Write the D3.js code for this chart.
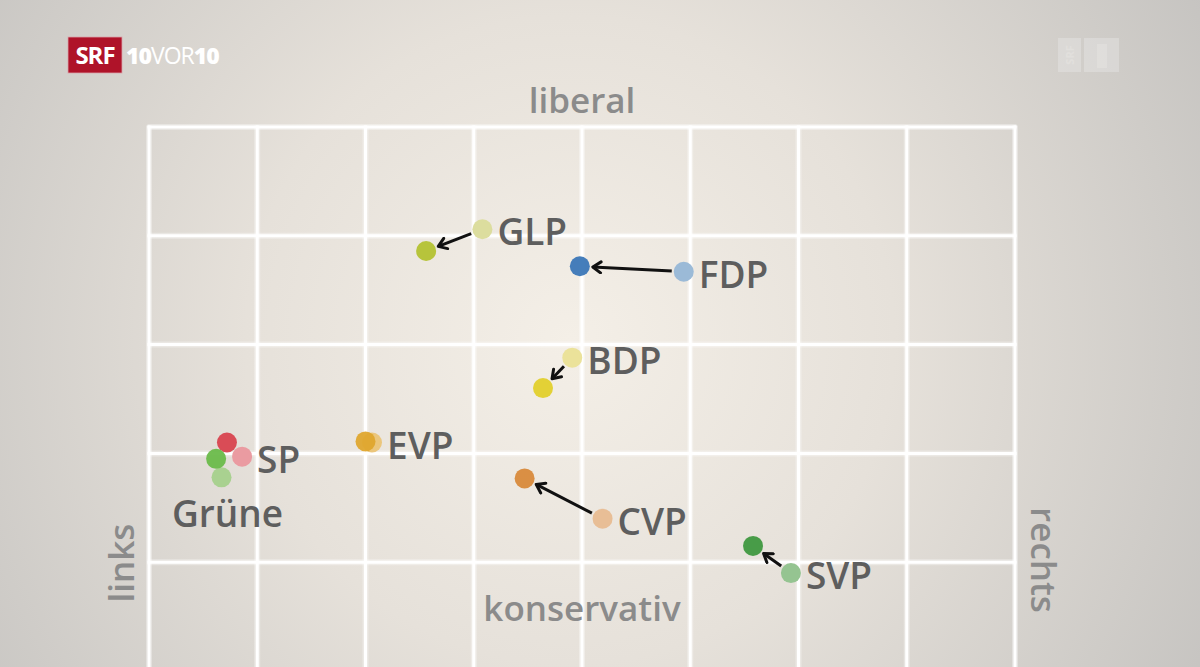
<!DOCTYPE html>
<html>
<head>
<meta charset="utf-8">
<script src="https://cdn.jsdelivr.net/npm/d3@7"></script>
<style>
  html, body { margin: 0; padding: 0; background: #cbc9c6; }
  svg { display: block; font-family: "Open Sans", "Noto Sans", sans-serif; }
</style>
</head>
<body>
<svg id="positions" width="1200" height="667"></svg>
<script>
// party positions, links(-) / rechts(+) and konservativ(-) / liberal(+)
var parties = ["GLP", "FDP", "BDP", "EVP", "SP", "Grüne", "CVP", "SVP"];
var oldX = [-0.92, 0.94, -0.09, -1.94, -3.14, -3.33, 0.19, 1.93];
var oldY = [ 3.06, 2.67,  1.88,  1.10,  0.97,  0.78, 0.40, -0.10];
var newX = [-1.44, -0.02, -0.36, -2.00, -3.28, -3.38, -0.53, 1.58];
var newY = [ 2.86, 2.72,  1.60,  1.11,  1.10,  0.95, 0.77, 0.15];
var labelSide = ["right", "right", "right", "right", "right", "below", "right", "right"];

var axisLabels = ["liberal", "konservativ", "links", "rechts"];

var newColors = ["#b4c232", "#3b77b7", "#e2d02c", "#dfa62e", "#d8434f", "#6abb4a", "#d88a3b", "#3f983f"];
var oldColors = ["#dcdd9e", "#9bbad7", "#ebe29a", "#ebc67c", "#ea9ba1", "#a9d190", "#e8be96", "#95c491"];

var svg = d3.select("svg#positions"),
	width = +svg.attr("width"),
	height = +svg.attr("height");

var xScale = d3.scaleLinear().domain([-4, 4]).range([149, 1015]);
var yScale = d3.scaleLinear().domain([4, -1]).range([127, 671]);

var defs = svg.append("defs");

var bg = defs.append("radialGradient")
	.attr("id", "bg")
	.attr("gradientUnits", "userSpaceOnUse")
	.attr("cx", 570).attr("cy", 340).attr("r", 720);
bg.append("stop").attr("offset", "0%").attr("stop-color", "#f4efe7");
bg.append("stop").attr("offset", "45%").attr("stop-color", "#e6e1da");
bg.append("stop").attr("offset", "100%").attr("stop-color", "#c6c4c1");

defs.append("marker")
	.attr("id", "arrow")
	.attr("viewBox", "0 0 14 14")
	.attr("markerUnits", "userSpaceOnUse")
	.attr("markerWidth", 14)
	.attr("markerHeight", 14)
	.attr("refX", 11)
	.attr("refY", 7)
	.attr("orient", "auto")
  .append("path")
	.attr("d", "M3,1.5 L11,7 L3,12.5")
	.attr("fill", "none")
	.attr("stroke", "#111")
	.attr("stroke-width", 3)
	.attr("stroke-linecap", "round")
	.attr("stroke-linejoin", "round");

svg.append("rect")
	.attr("width", width)
	.attr("height", height)
	.attr("fill", "url(#bg)");

// grid
var gx = xScale.ticks(8),
	gy = d3.range(4, -2, -1);

var grid = svg.append("g").attr("class", "grid");

grid.selectAll("line.glow-v")
	.data(gx)
	.enter().append("line")
	  .attr("x1", function(d) { return xScale(d); })
	  .attr("x2", function(d) { return xScale(d); })
	  .attr("y1", yScale(4) - 1.5)
	  .attr("y2", height + 5)
	  .attr("stroke", "#fff")
	  .attr("stroke-opacity", 0.35)
	  .attr("stroke-width", 6);

grid.selectAll("line.glow-h")
	.data(gy)
	.enter().append("line")
	  .attr("x1", xScale(-4) - 1.5)
	  .attr("x2", xScale(4) + 1.5)
	  .attr("y1", function(d) { return yScale(d); })
	  .attr("y2", function(d) { return yScale(d); })
	  .attr("stroke", "#fff")
	  .attr("stroke-opacity", 0.35)
	  .attr("stroke-width", 6);

grid.selectAll("line.v")
	.data(gx)
	.enter().append("line")
	  .attr("class", "v")
	  .attr("x1", function(d) { return xScale(d); })
	  .attr("x2", function(d) { return xScale(d); })
	  .attr("y1", yScale(4) - 1.5)
	  .attr("y2", height + 5)
	  .attr("stroke", "#fff")
	  .attr("stroke-width", 3);

grid.selectAll("line.h")
	.data(gy)
	.enter().append("line")
	  .attr("class", "h")
	  .attr("x1", xScale(-4) - 1.5)
	  .attr("x2", xScale(4) + 1.5)
	  .attr("y1", function(d) { return yScale(d); })
	  .attr("y2", function(d) { return yScale(d); })
	  .attr("stroke", "#fff")
	  .attr("stroke-width", 3);

// axis words
var axisCol = "#8b8b8b";
svg.append("text")
	.attr("x", xScale(0)).attr("y", 113)
	.attr("text-anchor", "middle")
	.attr("font-size", 35).attr("font-weight", 600)
	.attr("fill", axisCol)
	.text(axisLabels[0]);

svg.append("text")
	.attr("x", xScale(0)).attr("y", 621)
	.attr("text-anchor", "middle")
	.attr("font-size", 35).attr("font-weight", 600)
	.attr("fill", axisCol)
	.text(axisLabels[1]);

svg.append("text")
	.attr("transform", "translate(134,563) rotate(-90)")
	.attr("text-anchor", "middle")
	.attr("font-size", 35).attr("font-weight", 600)
	.attr("fill", axisCol)
	.text(axisLabels[2]);

svg.append("text")
	.attr("transform", "translate(1031,560) rotate(90)")
	.attr("text-anchor", "middle")
	.attr("font-size", 35).attr("font-weight", 600)
	.attr("fill", axisCol)
	.text(axisLabels[3]);

// build rows
var rows = parties.map(function(p, i) {
	return { id: p, ox: oldX[i], oy: oldY[i], nx: newX[i], ny: newY[i],
		side: labelSide[i], c0: oldColors[i], c1: newColors[i] };
});

var r = 10;

// arrows from old to new position
var arrows = rows.filter(function(d) {
	var dx = xScale(d.nx) - xScale(d.ox), dy = yScale(d.ny) - yScale(d.oy);
	return Math.sqrt(dx * dx + dy * dy) > 30;
});

svg.append("g").attr("class", "arrows")
	.selectAll("line")
	.data(arrows)
	.enter().append("line")
	  .each(function(d) {
		var x0 = xScale(d.ox), y0 = yScale(d.oy),
			x1 = xScale(d.nx), y1 = yScale(d.ny),
			len = Math.sqrt((x1 - x0) * (x1 - x0) + (y1 - y0) * (y1 - y0)),
			ux = (x1 - x0) / len, uy = (y1 - y0) / len;
		d3.select(this)
			.attr("x1", x0 + ux * (r + 2))
			.attr("y1", y0 + uy * (r + 2))
			.attr("x2", x1 - ux * (r + 3))
			.attr("y2", y1 - uy * (r + 3));
	  })
	  .attr("stroke", "#111")
	  .attr("stroke-width", 3)
	  .attr("marker-end", "url(#arrow)");

// old positions (pale) then new positions
var dots = svg.append("g").attr("class", "dots");

dots.selectAll("circle.old")
	.data(rows)
	.enter().append("circle")
	  .attr("class", "old")
	  .attr("cx", function(d) { return xScale(d.ox); })
	  .attr("cy", function(d) { return yScale(d.oy); })
	  .attr("r", r)
	  .attr("fill", function(d) { return d.c0; });

dots.selectAll("circle.new")
	.data(rows)
	.enter().append("circle")
	  .attr("class", "new")
	  .attr("cx", function(d) { return xScale(d.nx); })
	  .attr("cy", function(d) { return yScale(d.ny); })
	  .attr("r", r)
	  .attr("fill", function(d) { return d.c1; })
	  .attr("fill-opacity", 0.95);

// party names
svg.append("g").attr("class", "labels")
	.selectAll("text")
	.data(rows)
	.enter().append("text")
	  .attr("x", function(d) { return d.side == "below" ? xScale(d.ox) + 6 : xScale(d.ox) + 15; })
	  .attr("y", function(d) { return d.side == "below" ? yScale(d.oy) + 50 : yScale(d.oy) + 16; })
	  .attr("text-anchor", function(d) { return d.side == "below" ? "middle" : "start"; })
	  .attr("font-size", 37)
	  .attr("font-weight", 600)
	  .attr("fill", "#5e5e5e")
	  .text(function(d) { return d.id; });

// broadcaster logo
var logo = svg.append("g").attr("class", "logo");
logo.append("rect")
	.attr("x", 68).attr("y", 37).attr("width", 54).attr("height", 36)
	.attr("fill", "#af1329")
	.attr("stroke", "#d9a3aa").attr("stroke-width", 0.8);
logo.append("text")
	.attr("x", 95).attr("y", 64)
	.attr("text-anchor", "middle")
	.attr("font-size", 24).attr("font-weight", 700)
	.attr("letter-spacing", -1)
	.attr("fill", "#fff")
	.text("SRF");
var show = logo.append("text")
	.attr("x", 126).attr("y", 64)
	.attr("font-size", 23)
	.attr("letter-spacing", -1)
	.attr("fill", "#fff");
show.append("tspan").attr("font-weight", 800).text("10");
show.append("tspan").attr("font-weight", 400).text("VOR");
show.append("tspan").attr("font-weight", 800).text("10");

// faint channel bug top right
var bug = svg.append("g").attr("class", "bug").attr("opacity", 0.35);
bug.append("rect").attr("x", 1058).attr("y", 38).attr("width", 23).attr("height", 34).attr("fill", "#eee");
bug.append("rect").attr("x", 1084).attr("y", 38).attr("width", 35).attr("height", 34).attr("fill", "#eee");
bug.append("text")
	.attr("transform", "translate(1074,55) rotate(-90)")
	.attr("text-anchor", "middle")
	.attr("font-size", 11).attr("font-weight", 700)
	.attr("fill", "#fff")
	.text("SRF");
bug.append("rect").attr("x", 1097).attr("y", 44).attr("width", 10).attr("height", 24).attr("fill", "#fff");
</script>
</body>
</html>
